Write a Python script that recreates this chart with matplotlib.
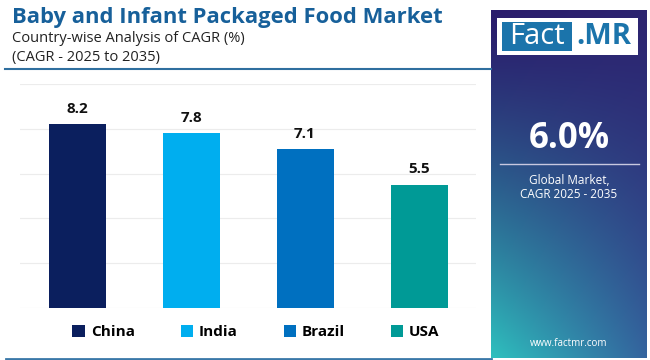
import numpy as np
import matplotlib
matplotlib.use("Agg")
import matplotlib.pyplot as plt
from matplotlib.patches import Rectangle
from matplotlib.lines import Line2D

countries = ["China", "India", "Brazil", "USA"]
cagr = [8.2, 7.8, 7.1, 5.5]
colors = ["#0b1f5e", "#00aeef", "#0070c0", "#009a96"]
y_ticks = [0, 2, 4, 6, 8, 10]
title = "Baby and Infant Packaged Food Market"
subtitle1 = "Country-wise Analysis of CAGR (%)"
subtitle2 = "(CAGR - 2025 to 2035)"
global_cagr = "6.0%"

W, H = 650, 360
fig = plt.figure(figsize=(W / 100, H / 100), dpi=100)
fig.patch.set_facecolor("white")

def fx(px):
    return px / W

def fy(py):
    return 1 - py / H

FONT = "Open Sans"

# Header
fig.text(fx(12), fy(18), title, fontsize=15.8, fontweight="bold", color="#17609a",
         family=FONT, va="center", ha="left")
fig.text(fx(12), fy(39), subtitle1, fontsize=10.5, color="#222222", family=FONT,
         va="center", ha="left")
fig.text(fx(12), fy(58), subtitle2, fontsize=10.5, color="#222222", family=FONT,
         va="center", ha="left")
fig.add_artist(Line2D([fx(5), fx(491)], [fy(69), fy(69)], color="#2f6f9f", lw=1.5))
fig.add_artist(Line2D([fx(6), fx(491)], [fy(358.5), fy(358.5)], color="#3a78a8", lw=2))

# Bar chart
ax = fig.add_axes([fx(20), fy(308), fx(476) - fx(20), fy(84) - fy(308)])
x = np.arange(len(countries))
bars = ax.bar(x, cagr, width=0.5, color=colors, zorder=3)
ax.set_ylim(0, 10)
ax.set_xlim(-0.5, len(countries) - 0.5)
ax.set_yticks(y_ticks)
ax.grid(axis="y", color="#ececec", lw=0.8, zorder=0)
ax.set_xticks([])
ax.tick_params(left=False, labelleft=False)
for s in ax.spines.values():
    s.set_visible(False)
for b, v in zip(bars, cagr):
    ax.annotate(f"{v}", (b.get_x() + b.get_width() / 2, v), xytext=(0, 6),
                textcoords="offset points", ha="center", va="bottom",
                fontsize=11, fontweight="bold", color="#111111", family=FONT)

# Legend
leg = fig.legend(bars, countries, loc="center", bbox_to_anchor=(fx(256), fy(332)),
                 ncol=4, frameon=False, handlelength=0.8, handleheight=0.8,
                 handletextpad=0.4, columnspacing=3.0,
                 prop={"family": FONT, "weight": "bold", "size": 11})

# Right panel with gradient
pax = fig.add_axes([fx(491), fy(358), fx(647) - fx(491), fy(10) - fy(358)])
ny, nx = 200, 100
tl = np.array([42, 28, 108]) / 255
tr = np.array([44, 36, 112]) / 255
bl = np.array([46, 192, 190]) / 255
br = np.array([52, 100, 158]) / 255
u = np.linspace(0, 1, nx)[None, :, None]
v = np.linspace(0, 1, ny)[:, None, None]
v2 = v ** 1.3
grad = (1 - v2) * ((1 - u) * tl + u * tr) + v2 * ((1 - u) * bl + u * br)
pax.imshow(grad, aspect="auto", extent=[0, 1, 0, 1], origin="upper")
pax.set_axis_off()

# Logo
fig.add_artist(Rectangle((fx(497), fy(55)), fx(638) - fx(497), fy(18) - fy(55),
                         facecolor="white", edgecolor="none"))
fig.add_artist(Rectangle((fx(502), fy(51)), fx(572) - fx(502), fy(22) - fy(51),
                         facecolor="#1b74ab", edgecolor="none"))
fig.text(fx(537), fy(37), "Fact", fontsize=21, color="white", family=FONT,
         ha="center", va="center")
fig.text(fx(604), fy(37), ".MR", fontsize=21, color="#1b74ab", family=FONT,
         fontweight="bold", ha="center", va="center")

fig.text(fx(569), fy(139), global_cagr, fontsize=25, fontweight="bold", color="white",
         family=FONT, ha="center", va="center")
fig.add_artist(Line2D([fx(500), fx(639)], [fy(164), fy(164)], color="#c8c8e0", lw=1))
fig.text(fx(569), fy(181), "Global Market,", fontsize=8.5, color="white", family=FONT,
         ha="center", va="center")
fig.text(fx(569), fy(195), "CAGR 2025 - 2035", fontsize=8.5, color="white", family=FONT,
         ha="center", va="center")
fig.text(fx(569), fy(343), "www.factmr.com", fontsize=7, color="white", family=FONT,
         ha="center", va="center")

fig.savefig("out.png", dpi=100)
